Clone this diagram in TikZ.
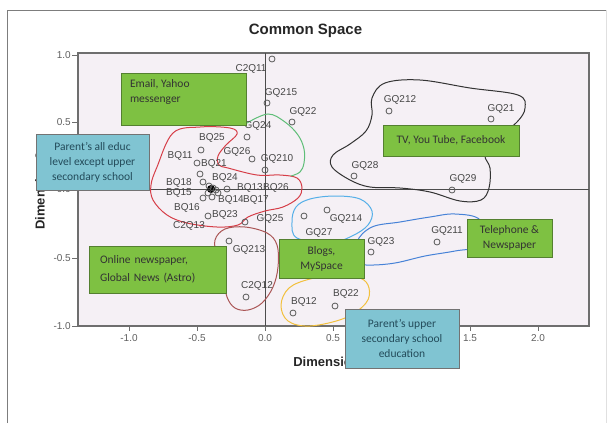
\documentclass[tikz,border=0pt]{standalone}
\usepackage{fontspec}
\setmainfont{Liberation Sans}
\newfontfamily\notefont{Carlito}
\usetikzlibrary{positioning}

\definecolor{plotbg}{RGB}{245,240,245}
\definecolor{framegrey}{RGB}{125,125,125}
\definecolor{axisgrey}{RGB}{110,110,110}
\definecolor{tickgrey}{RGB}{95,95,95}
\definecolor{labelgrey}{RGB}{70,70,70}
\definecolor{mediagreen}{RGB}{126,193,66}
\definecolor{mediaborder}{RGB}{84,128,48}
\definecolor{parentblue}{RGB}{128,196,210}
\definecolor{parentborder}{RGB}{115,115,115}
\definecolor{parenttext}{RGB}{35,75,90}
\definecolor{ringred}{RGB}{214,62,72}
\definecolor{ringbrown}{RGB}{170,85,85}
\definecolor{ringgreen}{RGB}{95,190,120}
\definecolor{ringblue}{RGB}{85,175,232}
\definecolor{ringdeepblue}{RGB}{70,130,215}
\definecolor{ringyellow}{RGB}{242,192,60}

\tikzset{
  plot area/.style = {fill=plotbg, draw=axisgrey, line width=1.3pt},
  ref line/.style = {draw=black!70, line width=0.9pt},
  tick mark/.style = {draw=axisgrey, line width=1pt},
  tick label/.style = {font=\fontsize{10}{10}\selectfont, text=tickgrey, inner sep=0},
  axis title/.style = {font=\fontsize{13}{13}\selectfont\bfseries, text=black!85, inner sep=0},
  point/.style = {circle, draw=black!65, line width=0.8pt, minimum size=6pt, inner sep=0},
  point label/.style = {font=\fontsize{10}{10}\selectfont, text=labelgrey, inner sep=0},
  ring/.style = {line width=1pt},
  note/.style = {line width=1pt, inner sep=0, font=\notefont\fontsize{11.5}{15}\selectfont},
  media/.style = {note, fill=mediagreen, draw=mediaborder, text=black!80},
  parent/.style = {note, fill=parentblue, draw=parentborder, text=parenttext, align=center},
}

\begin{document}
\begin{tikzpicture}[x=1pt, y=-1pt]
  \useasboundingbox (0,0) rectangle (609,423);

  %% Outer frame
  \draw [framegrey, line width=1pt] (7,423) -- (7,10) -- (606,10);
  \draw [black!12, line width=1pt] (606,10) -- (606,423);

  \node [font=\fontsize{15}{15}\selectfont\bfseries, text=black!85] (title) at (305.5,31) {Common Space};

  %% Plot area and reference lines
  \draw [plot area] (78,53) rectangle (589,326);
  \draw [ref line] (265,53) -- (265,326);
  \draw [ref line] (78,189) -- (589,189);

  %% Axes (the 1.0 label sits under the note box)
  \foreach \x in {129, 197, 265, 333, 401, 470, 538}{%
    \draw [tick mark] (\x,326) -- (\x,331);
  }
  \foreach \v/\x in {-1.0/129, -0.5/197, 0.0/265, 0.5/333, 1.5/470, 2.0/538}{%
    \node [tick label] (xt\x) at (\x,338) {\v};
  }
  \foreach \v/\y in {1.0/55, 0.5/122, 0.0/189, -0.5/258, -1.0/326}{%
    \draw [tick mark] (72,\y) -- (78,\y);
    \node [tick label, anchor=east] (yt\y) at (71,\y) {\v};
  }
  \node [axis title] (xtitle) at (332,362) {Dimension 1};
  \node [axis title, rotate=90] (ytitle) at (40,191) {Dimension 2};

  %% Groups
  \draw [ring, ringred] plot [smooth cycle, tension=0.6] coordinates {(157,167) (173,133) (200,127) (230,128) (237,134) (226,145) (218,156) (219,165) (228,168) (257,175) (280,175) (297,178) (302,188) (298,198) (283,207) (265,211) (248,217) (238,225) (217,227) (187,223) (167,215) (153,200) (151,185)};
  \draw [ring, ringbrown] plot [smooth cycle, tension=0.6] coordinates {(215,240) (217,257) (223,277) (227,297) (235,308) (248,310) (262,303) (273,287) (278,267) (277,245) (267,233) (245,227) (225,229)};
  \draw [ring, ringgreen] plot [smooth, tension=0.6] coordinates {(247,123) (268,114) (285,122) (298,135) (304,149) (304,163) (300,172) (291,176)};
  \draw [ring, black!80] plot [smooth cycle, tension=0.6] coordinates {(372,98) (385,83) (420,80) (470,88) (518,95) (525,108) (517,122) (495,140) (485,155) (490,168) (489,188) (481,200) (460,201) (430,192) (400,188) (370,187) (350,180) (332,167) (333,155) (350,144) (366,131) (372,115)};
  \draw [ring, ringblue] plot [smooth cycle, tension=0.6] coordinates {(297,238) (292,222) (296,207) (310,199) (335,196) (360,199) (372,211) (368,225) (352,236) (330,243)};
  \draw [ring, ringdeepblue] plot [smooth cycle, tension=0.6] coordinates {(360,262) (357,242) (372,227) (400,222) (430,217) (455,214) (480,220) (480,245) (455,251) (425,256) (395,263) (370,265)};
  \draw [ring, ringyellow] plot [smooth cycle, tension=0.6] coordinates {(281,305) (289,288) (310,279) (335,276) (360,278) (369,288) (366,303) (345,318) (310,326) (288,321)};

  %% Points and their labels
  \node [circle, fill=black, minimum size=8pt, inner sep=0] (blob) at (211,189) {};
  \foreach \name/\px/\py/\lx/\ly in {
      C2Q11/272/59/251/69, GQ215/267/103/281/93, GQ22/292/122/303/112,
      GQ24/247/137/258/126, BQ25/201/150/212/138, GQ26/252/159/237/152,
      GQ210/265/170/277/159, BQ21/197/163/214/164, BQ11/200/174/180/156,
      BQ18/203/182/179/183, BQ24/213/188/225/178, BQ13/227/189/250/188,
      BQ26/216/190/276/188, BQ15/203/198/179/193, BQ14/212/197/231/200,
      BQ17/218/193/256/200, BQ16/208/193/187/208, BQ23/208/216/225/215,
      C2Q13/209/186/189/226, GQ25/245/222/270/219, GQ213/229/241/249/250,
      C2Q12/246/297/257/286, GQ27/304/216/319/233, GQ214/327/210/346/219,
      GQ23/371/252/381/242, GQ211/437/242/447/231, BQ12/293/313/304/302,
      BQ22/335/306/346/294, GQ212/389/111/400/100, GQ21/491/119/501/109,
      GQ28/354/176/365/166, GQ29/452/190/463/179}{%
    \node [point] (p\name) at (\px,\py) {};
    \node [point label] (l\name) at (\lx,\ly) {\name};
  }

  %% Notes
  \node [media, minimum width=125pt, minimum height=52pt] (email) at (183.5,99) {};
  \node [note, text=black!80, anchor=north west, align=left] (email text)
        at ([shift={(9pt,-7pt)}]email.north west) {Email, Yahoo\\messenger};
  \node [media, minimum width=136pt, minimum height=31pt] (tv) at (451,140.5) {TV, You Tube, Facebook};
  \node [media, minimum width=137pt, minimum height=47pt, text width=115pt, align=left]
        (online) at (157.5,269.5) {Online newspaper,\\[3pt]Global News (Astro)};
  \node [media, minimum width=85pt, minimum height=39pt, align=center] (blogs) at (321.5,258.5) {Blogs,\\MySpace};
  \node [media, minimum width=85pt, minimum height=38pt, align=center] (phone) at (509.5,238) {Telephone \&\\Newspaper};
  \node [parent, minimum width=113pt, minimum height=56pt] (parent all) at (92.5,162)
        {Parent’s all educ\\level except upper\\secondary school};
  \node [parent, minimum width=114pt, minimum height=59pt] (parent upper) at (402,338.5)
        {Parent’s upper\\secondary school\\education};
\end{tikzpicture}
\end{document}
